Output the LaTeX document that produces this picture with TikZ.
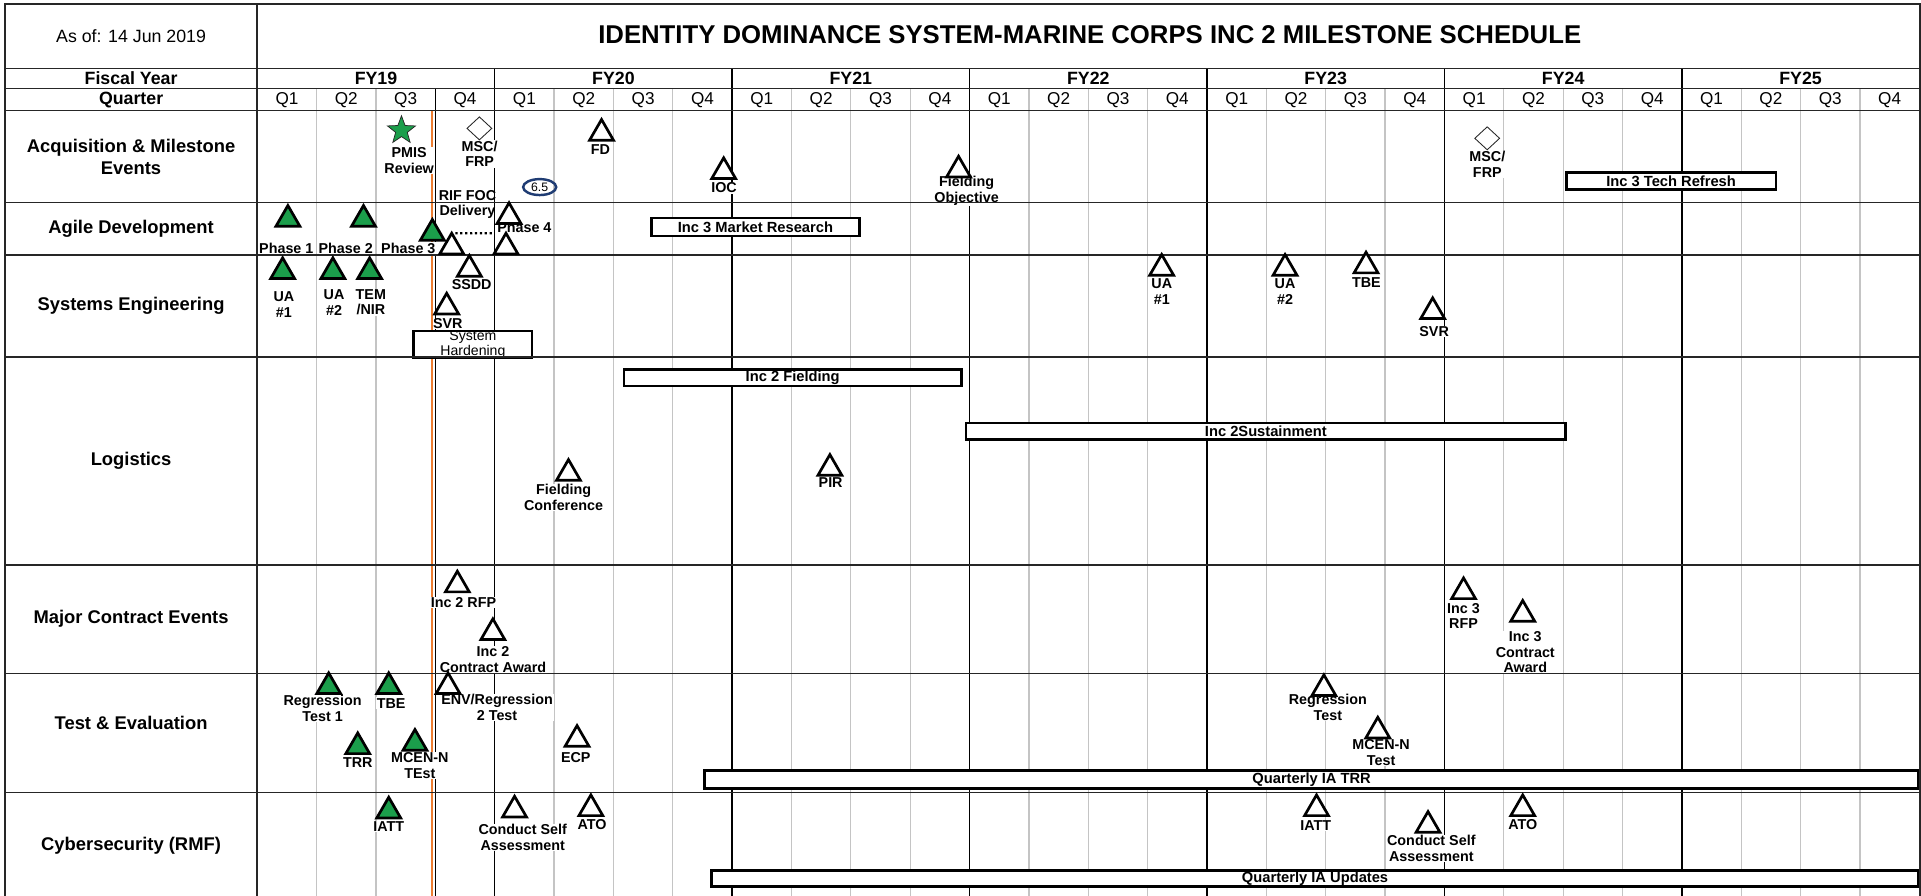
\documentclass[tikz,border=0pt]{standalone}
\usepackage{fontspec}
\setmainfont{Liberation Sans}
\usepackage{tikz}
\usetikzlibrary{shapes.geometric}
\definecolor{IDSBlack}{HTML}{000000}
\definecolor{IDSWhite}{HTML}{FFFFFF}
\definecolor{IDSDark}{HTML}{262626}
\definecolor{IDSGrid}{HTML}{C4C4C4}
\definecolor{IDSGreen}{HTML}{1B9E4B}
\definecolor{IDSOrange}{HTML}{ED7D31}
\definecolor{IDSNavy}{HTML}{1F3C73}
\tikzset{
    % Frame and row lines
    framerule/.style={draw=IDSDark, line width=1.3pt},
    % Quarter lines
    quarterrule/.style={draw=IDSGrid, line width=1pt},
    % Fiscal year lines
    yearrule/.style={draw=IDSBlack, line width=1.1pt},
    % Status date line
    todayrule/.style={draw=IDSOrange, line width=1.5pt},
    % Header texts
    titlenode/.style={font=\fontsize{21}{24}\selectfont\bfseries, inner sep=0pt},
    datenode/.style={font=\fontsize{14.5}{17}\selectfont, inner sep=0pt},
    headnode/.style={font=\fontsize{14.5}{17}\selectfont\bfseries, inner sep=0pt},
    quarternode/.style={font=\fontsize{14}{17}\selectfont, inner sep=0pt},
    % Row names
    rownode/.style={font=\fontsize{15}{18}\selectfont\bfseries, align=center, inner sep=0pt},
    % Milestone labels
    labelnode/.style={font=\fontsize{11.7}{12.8}\selectfont\bfseries, align=center, fill=IDSWhite, inner sep=0.6pt},
    % Open milestone
    opentri/.style={regular polygon, regular polygon sides=3, draw=IDSBlack, line width=2.2pt, fill=IDSWhite, minimum size=22.5pt, inner sep=0pt},
    % Completed milestone
    donetri/.style={opentri, fill=IDSGreen},
    % Review star
    reviewstar/.style={star, star points=5, star point ratio=2.4, draw=IDSDark, line width=0.6pt, fill=IDSGreen, minimum size=24pt, inner sep=0pt},
    % Decision diamond
    decisionnode/.style={diamond, draw=IDSDark, line width=0.7pt, fill=IDSWhite, minimum width=20.5pt, minimum height=19pt, inner sep=0pt},
    % Version oval
    versionnode/.style={ellipse, draw=IDSNavy, line width=2pt, minimum width=27pt, minimum height=13pt, inner sep=0pt, font=\fontsize{10}{10}\selectfont},
    % Activity bar
    barnode/.style={draw=IDSBlack, line width=2.2pt, fill=IDSWhite, inner sep=0pt, align=center, font=\fontsize{12}{12}\selectfont\bfseries},
    % Dotted link
    dotlink/.style={draw=IDSBlack, line width=1.8pt, dash pattern=on 1.8pt off 2.2pt}
}
\begin{document}
\begin{tikzpicture}[x=1pt, y=-1pt]
    \fill[IDSWhite] (0,0) rectangle (1568,731);
    \useasboundingbox (0,0) rectangle (1568,731);

    % grid
    \foreach \k in {1,...,27} {
        \draw[quarterrule] ({210+\k*48.45},72.1) -- ({210+\k*48.45},731);
    }
    \foreach \k in {4,8,...,24} {
        \draw[yearrule] ({210+\k*48.45},55.8) -- ({210+\k*48.45},731);
    }
    \draw[yearrule] ({210+3*48.45},72.1) -- ({210+3*48.45},731);
    \draw[todayrule] (352.3,90.3) -- (352.3,731);

    % header
    \node[datenode] (asof) at (107,29.4) {As of: 14 Jun 2019};
    \node[titlenode] (title) at (889.5,28.6) {IDENTITY DOMINANCE SYSTEM-MARINE CORPS INC 2 MILESTONE SCHEDULE};
    \node[headnode] (fyhead) at (107,63.6) {Fiscal Year};
    \node[headnode] (qhead) at (107,81.4) {Quarter};
    \foreach \yr [count=\i from 0] in {19,...,25} {
        \node[headnode] (fy\yr) at ({210+(4*\i+2)*48.45},63.9) {FY\yr};
    }
    \foreach \k in {0,...,27} {
        \pgfmathtruncatemacro\qn{mod(\k,4)+1}
        \node[quarternode] (q\k) at ({210+(\k+0.5)*48.45},81.4) {Q\qn};
    }

    % row names
    \node[rownode] (acqrow) at (107,128.3) {Acquisition \& Milestone\\Events};
    \node[rownode] (agilerow) at (107,187) {Agile Development};
    \node[rownode] (serow) at (107,249.7) {Systems Engineering};
    \node[rownode] (logrow) at (107,376.5) {Logistics};
    \node[rownode] (mcerow) at (107,505.4) {Major Contract Events};
    \node[rownode] (terow) at (107,590) {Test \& Evaluation};
    \node[rownode] (cyberrow) at (107,690.6) {Cybersecurity (RMF)};

    % activity bars
    \node[barnode, minimum width=171.1pt, minimum height=14.1pt] (techBar) at (1364,147.7) {Inc 3 Tech Refresh};
    \node[barnode, minimum width=169.5pt, minimum height=14.6pt] (mktBar) at (616.6,185.3) {Inc 3 Market Research};
    \node[barnode, minimum width=96.5pt, minimum height=18.2pt, font=\fontsize{11.5}{10.4}\selectfont] (hardBar) at (386,281.2) {System\\Hardening};
    \node[barnode, minimum width=275.2pt, minimum height=13.3pt] (fieldBar) at (647,308.5) {Inc 2 Fielding};
    \node[barnode, minimum width=489.3pt, minimum height=13.6pt] (sustBar) at (1033.2,352.1) {Inc 2Sustainment};
    \node[barnode, minimum width=990.7pt, minimum height=14.7pt] (trrBar) at (1070.6,636.5) {Quarterly IA TRR};
    \node[barnode, minimum width=985.1pt, minimum height=13.3pt] (iaBar) at (1073.4,716.9) {Quarterly IA Updates};

    % milestone labels
    \node[labelnode] (pmisLbl) at (334,131) {PMIS\\Review};
    \node[labelnode] (mscLbl) at (391.5,125.5) {MSC/\\FRP};
    \node[labelnode] (fdLbl) at (490,122) {FD};
    \node[labelnode] (iocLbl) at (591,153.3) {IOC};
    \node[labelnode] (fobjLbl) at (789,156) {Fielding\\Objective};
    \node[labelnode] (msc2Lbl) at (1214,134.3) {MSC/\\FRP};
    \node[labelnode, fill=none] (rifLbl) at (381.6,166.8) {RIF FOC\\Delivery};
    \node[labelnode] (ph1Lbl) at (233.7,202.7) {Phase 1};
    \node[labelnode] (ph2Lbl) at (282.2,202.7) {Phase 2};
    \node[labelnode] (ph3Lbl) at (333.3,202.7) {Phase 3};
    \node[labelnode] (ph4Lbl) at (428,185.5) {Phase 4};
    \node[labelnode] (ua1Lbl) at (231.7,248.4) {UA\\\#1};
    \node[labelnode] (ua2Lbl) at (272.7,246.7) {UA\\\#2};
    \node[labelnode] (temLbl) at (302.7,246.7) {TEM\\/NIR};
    \node[labelnode] (ssddLbl) at (385,232.6) {SSDD};
    \node[labelnode, inner sep=0pt] (svrLbl) at (365.5,264.4) {SVR};
    \node[labelnode] (ua3Lbl) at (948.3,238.2) {UA\\\#1};
    \node[labelnode] (ua4Lbl) at (1048.9,238.2) {UA\\\#2};
    \node[labelnode] (tbeLbl) at (1115.3,230.6) {TBE};
    \node[labelnode] (svr2Lbl) at (1170.6,270.5) {SVR};
    \node[labelnode] (fconfLbl) at (460,406.2) {Fielding\\Conference};
    \node[labelnode] (pirLbl) at (678,393.6) {PIR};
    \node[labelnode] (rfp2Lbl) at (378.3,491.9) {Inc 2 RFP};
    \node[labelnode] (award2Lbl) at (402.4,538.2) {Inc 2\\Contract Award};
    \node[labelnode] (rfp3Lbl) at (1194.6,502.8) {Inc 3\\RFP};
    \node[labelnode] (award3Lbl) at (1245,532.3) {Inc 3\\Contract\\Award};
    \node[labelnode] (reg1Lbl) at (263.3,578.3) {Regression\\Test 1};
    \node[labelnode] (tbe2Lbl) at (319.3,573.9) {TBE};
    \node[labelnode] (envLbl) at (405.7,577.6) {ENV/Regression\\2 Test};
    \node[labelnode] (trrLbl) at (292,622.3) {TRR};
    \node[labelnode] (mcen1Lbl) at (342.7,625.1) {MCEN-N\\TEst};
    \node[labelnode] (ecpLbl) at (470,618) {ECP};
    \node[labelnode] (reg2Lbl) at (1083.9,577.6) {Regression\\Test};
    \node[labelnode] (mcen2Lbl) at (1127.3,614.4) {MCEN-N\\Test};
    \node[labelnode] (iatt1Lbl) at (317.3,674.6) {IATT};
    \node[labelnode] (csa1Lbl) at (426.7,683.5) {Conduct Self\\Assessment};
    \node[labelnode] (ato1Lbl) at (483.3,673.2) {ATO};
    \node[labelnode] (iatt2Lbl) at (1074,673.7) {IATT};
    \node[labelnode] (csa2Lbl) at (1168.3,692.7) {Conduct Self\\Assessment};
    \node[labelnode] (ato2Lbl) at (1243,672.7) {ATO};

    % frame and rows
    \foreach \yy in {55.8,72.1,90.3,165.2,208.2,291.2,461.2,549.6,647} {
        \draw[framerule] (4,\yy) -- (1567,\yy);
    }
    \draw[framerule, line width=1.6pt] (4,731) -- (4,3.3) -- (1567,3.3) -- (1567,731);
    \draw[framerule] (210,3.3) -- (210,731);

    % milestones
    \node[reviewstar] (pmisStar) at (327.7,106.5) {};
    \node[decisionnode] (mscDia) at (391.3,104.8) {};
    \node[decisionnode] (msc2Dia) at (1213.9,112.9) {};
    \node[versionnode] (verOval) at (440.5,152.7) {6.5};
    \node[opentri] (fdTri) at (491,108.8) {};
    \node[opentri] (iocTri) at (590.7,140.1) {};
    \node[opentri] (fobjTri) at (782.4,138.8) {};

    \node[donetri] (ph1Tri) at (235,179) {};
    \node[donetri] (ph2Tri) at (296.7,179) {};
    \node[donetri] (ph3Tri) at (352.9,190.4) {};
    \node[opentri] (ph4Tri) at (415.5,176.8) {};
    \node[opentri] (ph3bTri) at (368.7,201.6) {};
    \node[opentri] (ph4bTri) at (413,201.6) {};
    \coordinate (dotEnd) at (404,190.3);
    \draw[dotlink, shorten <=11pt] (ph3Tri.east) -- (dotEnd);

    \node[donetri] (ua1Tri) at (230.7,221.7) {};
    \node[donetri] (ua2Tri) at (271.7,221.7) {};
    \node[donetri] (temTri) at (301.7,221.7) {};
    \node[opentri] (ssddTri) at (383.1,219.8) {};
    \node[opentri] (svrTri) at (364.6,250.6) {};
    \node[opentri] (ua3Tri) at (948.2,219) {};
    \node[opentri] (ua4Tri) at (1048.9,219) {};
    \node[opentri] (tbeTri) at (1115,217.1) {};
    \node[opentri] (svr2Tri) at (1169.4,254.4) {};

    \node[opentri] (fconfTri) at (464,386.4) {};
    \node[opentri] (pirTri) at (677.4,382.3) {};

    \node[opentri] (rfp2Tri) at (373.3,477.5) {};
    \node[opentri] (award2Tri) at (402.3,516.4) {};
    \node[opentri] (rfp3Tri) at (1194.6,483) {};
    \node[opentri] (award3Tri) at (1242.9,501.4) {};

    \node[donetri] (reg1Tri) at (268.3,560.5) {};
    \node[donetri] (tbe2Tri) at (317.3,560.5) {};
    \node[opentri] (envTri) at (365.7,560.5) {};
    \node[donetri] (trrTri) at (292,609.5) {};
    \node[donetri] (mcen1Tri) at (338.7,606.7) {};
    \node[opentri] (ecpTri) at (471,603.5) {};
    \node[opentri] (reg2Tri) at (1080.6,562.1) {};
    \node[opentri] (mcen2Tri) at (1124.6,596.7) {};

    \node[donetri] (iatt1Tri) at (317.3,662) {};
    \node[opentri] (csa1Tri) at (420,661.2) {};
    \node[opentri] (ato1Tri) at (482.3,660.1) {};
    \node[opentri] (iatt2Tri) at (1074.6,660.1) {};
    \node[opentri] (csa2Tri) at (1165.6,673.7) {};
    \node[opentri] (ato2Tri) at (1242.9,660.1) {};
\end{tikzpicture}
\end{document}
